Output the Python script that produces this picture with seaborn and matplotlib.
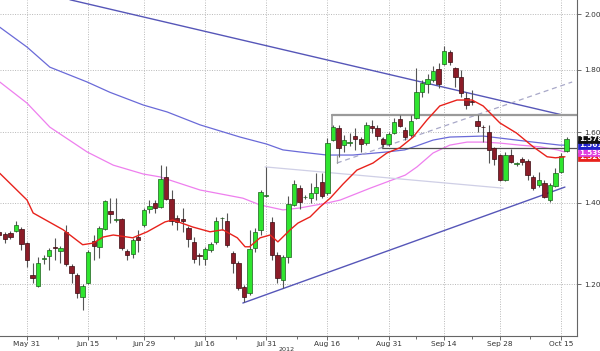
import numpy as np
import pandas as pd
import matplotlib
matplotlib.use("Agg")
import matplotlib.pyplot as plt
import seaborn as sns
from matplotlib.ticker import FixedLocator, NullLocator, NullFormatter, FixedFormatter

# ---------------- data (daily candles) ----------------
opens = [1.325, 1.320, 1.322, 1.327, 1.332, 1.297, 1.222, 1.196, 1.259, 1.266,
         1.288, 1.278, 1.325, 1.242, 1.222, 1.172, 1.203, 1.302, 1.288, 1.332,
         1.378, 1.356, 1.358, 1.278, 1.271, 1.312, 1.342, 1.384, 1.399, 1.389,
         1.470, 1.410, 1.360, 1.358, 1.335, 1.300, 1.268, 1.259, 1.280, 1.300,
         1.359, 1.352, 1.273, 1.249, 1.194, 1.180, 1.285, 1.330, 1.418, 1.350,
         1.268, 1.210, 1.263, 1.394, 1.440, 1.414, 1.412, 1.426, 1.456, 1.426,
         1.576, 1.612, 1.561, 1.567, 1.588, 1.579, 1.567, 1.618, 1.612, 1.579,
         1.564, 1.597, 1.640, 1.606, 1.591, 1.643, 1.725, 1.751, 1.765, 1.803,
         1.820, 1.861, 1.806, 1.775, 1.706, 1.697, 1.634, 1.616, 1.600, 1.553,
         1.532, 1.461, 1.532, 1.506, 1.521, 1.515, 1.470, 1.448, 1.453, 1.407,
         1.445, 1.484, 1.544]
highs = [1.330, 1.325, 1.327, 1.352, 1.337, 1.300, 1.249, 1.263, 1.268, 1.285,
         1.310, 1.290, 1.342, 1.247, 1.226, 1.201, 1.280, 1.317, 1.340, 1.407,
         1.412, 1.412, 1.360, 1.283, 1.310, 1.330, 1.386, 1.407, 1.407, 1.503,
         1.500, 1.434, 1.368, 1.386, 1.340, 1.312, 1.273, 1.288, 1.300, 1.363,
         1.363, 1.373, 1.278, 1.254, 1.198, 1.330, 1.335, 1.434, 1.497, 1.363,
         1.275, 1.268, 1.418, 1.461, 1.448, 1.421, 1.453, 1.481, 1.481, 1.582,
         1.621, 1.621, 1.591, 1.597, 1.612, 1.585, 1.631, 1.637, 1.621, 1.585,
         1.600, 1.643, 1.653, 1.615, 1.653, 1.806, 1.765, 1.786, 1.813, 1.824,
         1.883, 1.868, 1.810, 1.799, 1.725, 1.732, 1.653, 1.621, 1.621, 1.556,
         1.535, 1.541, 1.550, 1.512, 1.527, 1.521, 1.475, 1.484, 1.461, 1.453,
         1.494, 1.538, 1.585]
lows = [1.310, 1.297, 1.307, 1.325, 1.280, 1.240, 1.203, 1.194, 1.247, 1.233,
        1.256, 1.249, 1.242, 1.203, 1.169, 1.143, 1.201, 1.256, 1.261, 1.330,
        1.347, 1.350, 1.280, 1.256, 1.261, 1.275, 1.337, 1.373, 1.373, 1.386,
        1.407, 1.342, 1.330, 1.325, 1.288, 1.249, 1.244, 1.244, 1.275, 1.295,
        1.330, 1.288, 1.226, 1.187, 1.160, 1.176, 1.275, 1.317, 1.415, 1.256,
        1.203, 1.192, 1.249, 1.391, 1.384, 1.410, 1.399, 1.407, 1.412, 1.421,
        1.573, 1.527, 1.541, 1.559, 1.547, 1.541, 1.561, 1.597, 1.576, 1.556,
        1.559, 1.594, 1.615, 1.576, 1.585, 1.640, 1.710, 1.722, 1.758, 1.738,
        1.817, 1.817, 1.742, 1.709, 1.671, 1.684, 1.600, 1.570, 1.509, 1.503,
        1.458, 1.458, 1.509, 1.500, 1.503, 1.461, 1.434, 1.442, 1.412, 1.402,
        1.442, 1.481, 1.541]
closes = [1.317, 1.307, 1.312, 1.342, 1.295, 1.256, 1.215, 1.249, 1.261, 1.280,
          1.285, 1.285, 1.247, 1.226, 1.180, 1.196, 1.275, 1.290, 1.335, 1.404,
          1.371, 1.358, 1.285, 1.268, 1.305, 1.305, 1.381, 1.391, 1.386, 1.464,
          1.410, 1.352, 1.350, 1.352, 1.307, 1.259, 1.266, 1.283, 1.295, 1.352,
          1.361, 1.293, 1.249, 1.191, 1.172, 1.283, 1.325, 1.428, 1.421, 1.268,
          1.215, 1.263, 1.396, 1.450, 1.402, 1.416, 1.426, 1.442, 1.418, 1.567,
          1.615, 1.553, 1.576, 1.570, 1.579, 1.564, 1.621, 1.612, 1.588, 1.564,
          1.594, 1.631, 1.618, 1.585, 1.634, 1.725, 1.755, 1.769, 1.796, 1.751,
          1.864, 1.827, 1.775, 1.722, 1.684, 1.694, 1.618, 1.614, 1.547, 1.521,
          1.461, 1.532, 1.512, 1.508, 1.512, 1.475, 1.440, 1.461, 1.415, 1.448,
          1.481, 1.530, 1.578]

tick_idx = [5, 16, 26, 37, 48, 59, 70, 80, 90, 101]
tick_labels = ["May 31", "Jun 15", "Jun 29", "Jul 16", "Jul 31",
               "Aug 16", "Aug 31", "Sep 14", "Sep 28", "Oct 15"]
year_label = "2012"

# moving averages (sampled from the chart): position in candle units, value
ma_red_x = [0.1, 5, 6.1, 11.5, 15, 16.9, 18.7, 20.5, 24, 26.6, 29.8, 31.2, 34.8,
            37.9, 40.2, 42.8, 44.2, 45, 46.9, 48.7, 50.1, 52.3, 53.7, 55.9, 57.7,
            59.5, 61.8, 64.3, 67.2, 69.7, 72, 74.4, 76.9, 79.2, 82.3, 85, 87, 90,
            93, 96, 98.5, 100, 101.7]
ma_red_y = [1.480, 1.407, 1.373, 1.330, 1.293, 1.297, 1.312, 1.317, 1.310, 1.325,
            1.350, 1.355, 1.337, 1.325, 1.330, 1.310, 1.288, 1.288, 1.310, 1.317,
            1.300, 1.330, 1.347, 1.363, 1.389, 1.412, 1.450, 1.489, 1.509, 1.538,
            1.553, 1.585, 1.637, 1.681, 1.700, 1.700, 1.681, 1.628, 1.597, 1.556,
            1.527, 1.524, 1.527]
ma_mag_x = [0.1, 5, 9.1, 15.8, 20.5, 25.9, 28.9, 36.1, 43.8, 46.9, 51, 54, 58.9,
            61.3, 66.7, 73, 75.1, 78, 81, 84.1, 87.3, 90, 93.6, 97.2, 100.3, 101.7]
ma_mag_y = [1.759, 1.690, 1.615, 1.541, 1.503, 1.478, 1.470, 1.434, 1.412, 1.394,
            1.381, 1.386, 1.399, 1.407, 1.439, 1.475, 1.498, 1.538, 1.561, 1.570,
            1.570, 1.567, 1.561, 1.556, 1.547, 1.541]
ma_blue_x = [0.1, 5, 9.1, 15.8, 19.9, 25.9, 30.2, 36.1, 43.3, 48.1, 51, 54, 58.9,
             63.6, 69.7, 72.9, 75.1, 78, 81, 87, 90, 96, 100.8, 101.7]
ma_blue_y = [1.951, 1.879, 1.809, 1.759, 1.725, 1.684, 1.662, 1.622, 1.585, 1.564,
             1.547, 1.541, 1.532, 1.532, 1.541, 1.547, 1.559, 1.576, 1.585, 1.588,
             1.582, 1.570, 1.561, 1.561]

# drawn trend lines: (start pos, start value, end pos, end value)
trend_upper = (12.7, 2.055, 101.4, 1.652)
trend_lower = (43.8, 1.158, 101.7, 1.442)
trend_dashed = (60.7, 1.509, 103.0, 1.759)
trend_faint = (47.8, 1.498, 90.6, 1.439)
level_high = (59.8, 1.652, 1.614)   # start pos, level, bracket end
level_mid = (68.8, 1.552, 1.582)

last_labels = [("1.5266", 1.527, "#e8221c"), ("1.5391", 1.539, "#e040e0"),
               ("1.5613", 1.561, "#2222cc"), ("1.578", 1.578, "#111111")]

# ---------------- drawing ----------------
sns.set_style("white")
plt.rcParams['font.family'] = ['DejaVu Sans']

W, H = 600, 351
fig = plt.figure(figsize=(W / 100, H / 100), dpi=100)
ax = fig.add_axes([0, 15 / H, 577 / W, 336 / H])
ax.set_yscale('log')

x = np.arange(len(opens))
o = np.array(opens); c = np.array(closes); hi = np.array(highs); lo = np.array(lows)
up = c >= o

GREEN = "#2fe52f"
DARK = "#8c1c28"

# grid
ax.set_axisbelow(True)
ax.grid(True, which='major', axis='both', linestyle=(0, (1, 1.5)), color='#b8b8b8', lw=0.7)

# moving averages via seaborn
sns.lineplot(x=ma_blue_x, y=ma_blue_y, ax=ax, color="#6a6ad8", lw=0.9, sort=False, legend=False)
sns.lineplot(x=ma_mag_x, y=ma_mag_y, ax=ax, color="#ee7fee", lw=0.9, sort=False, legend=False)

# trend lines
ax.plot([trend_faint[0], trend_faint[2]], [trend_faint[1], trend_faint[3]], color="#cfcfe6", lw=0.9)
ax.plot([trend_upper[0], trend_upper[2]], [trend_upper[1], trend_upper[3]], color="#5656b8", lw=1.0)
ax.plot([trend_lower[0], trend_lower[2]], [trend_lower[1], trend_lower[3]], color="#5656b8", lw=1.0)
ax.plot([trend_dashed[0], trend_dashed[2]], [trend_dashed[1], trend_dashed[3]], color="#a8a8c8",
        lw=0.9, ls=(0, (4, 3)))
ax.plot([trend_dashed[0], trend_dashed[0]], [trend_dashed[1], 1.532], color="#a0a0a0", lw=0.9)
ax.plot([level_high[0], 104], [level_high[1], level_high[1]], color="#9a9a9a", lw=1.6)
ax.plot([level_high[0], level_high[0]], [level_high[1], level_high[2]], color="#9a9a9a", lw=1.2)
ax.plot([level_mid[0], 104], [level_mid[1], level_mid[1]], color="#505050", lw=0.9)
ax.plot([level_mid[0], level_mid[0]], [level_mid[1], level_mid[2]], color="#707070", lw=0.9)

# candles
ax.vlines(x, lo, hi, color="#555555", lw=0.8, zorder=3)
body_lo = np.minimum(o, c)
body_h = np.maximum(np.abs(c - o), 0.0015)
ax.bar(x, body_h, bottom=body_lo, width=0.78,
       color=[GREEN if u else DARK for u in up],
       edgecolor=["#1d5e1d" if u else "#3a0a10" for u in up], lw=0.5, zorder=4)

# red MA above candles
sns.lineplot(x=ma_red_x, y=ma_red_y, ax=ax, color="#e8221c", lw=1.0, sort=False, legend=False, zorder=5)

# axes formatting
ax.set_xlim(0.14, 103.87)
ax.set_ylim(1.088, 2.054)
ax.yaxis.tick_right()
ax.yaxis.set_major_locator(FixedLocator([1.2, 1.4, 1.6, 1.8, 2.0]))
ax.yaxis.set_major_formatter(FixedFormatter(["1.20", "1.40", "1.60", "1.80", "2.00"]))
ax.yaxis.set_minor_locator(NullLocator())
ax.yaxis.set_minor_formatter(NullFormatter())
ax.xaxis.set_major_locator(FixedLocator(tick_idx))
ax.xaxis.set_major_formatter(FixedFormatter(tick_labels))
mids = [(a + b) / 2 for a, b in zip(tick_idx[:-1], tick_idx[1:])]
ax.xaxis.set_minor_locator(FixedLocator(mids))
ax.tick_params(axis='x', which='major', length=3, width=0.6, color='#555', labelsize=5.3,
               labelcolor='#333', pad=0.8, bottom=True)
ax.tick_params(axis='x', which='minor', length=2, width=0.6, color='#555', bottom=True)
ax.tick_params(axis='y', which='major', length=3, width=0.6, color='#555', labelsize=5.3,
               labelcolor='#333', pad=2, right=True, left=False)
ax.set_xlabel("")
ax.set_ylabel("")
for s in ['top', 'left']:
    ax.spines[s].set_visible(False)
for s in ['right', 'bottom']:
    ax.spines[s].set_color('#666')
    ax.spines[s].set_linewidth(0.8)

# last value labels on the right
for txt, val, col in last_labels:
    ax.text(1.003, val, txt, transform=ax.get_yaxis_transform(), ha='left', va='center',
            fontsize=5.3, color='white', fontweight='bold', clip_on=False, zorder=10,
            bbox=dict(boxstyle='square,pad=0.1', fc=col, ec=col, lw=0.5))

fig.text(287 / W, -0.004, year_label, ha='center', va='bottom', fontsize=4.6, color='#333')

fig.savefig("out.png", dpi=100, facecolor='white')
